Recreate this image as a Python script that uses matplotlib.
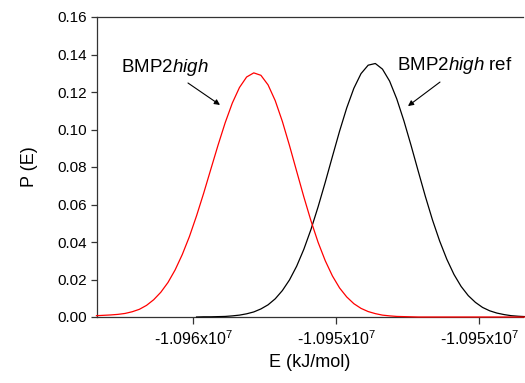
import numpy as np
import matplotlib
matplotlib.use('Agg')
import matplotlib.pyplot as plt
from matplotlib.ticker import FuncFormatter

plt.rcParams['font.family'] = 'Liberation Sans'
plt.rcParams['mathtext.fontset'] = 'custom'
plt.rcParams['mathtext.rm'] = 'Liberation Sans'
plt.rcParams['mathtext.it'] = 'Liberation Sans:italic'

# energy grid (kJ/mol), 200 kJ/mol steps
energy = np.arange(-10960700, -10948600, 200)

# P(E) for BMP2 high
p_high = [0.0007, 0.0009, 0.0011, 0.0014, 0.0019, 0.0028,
          0.0041, 0.0062, 0.0092, 0.0132, 0.0184, 0.0251, 0.0333, 0.0429,
          0.0540, 0.0661, 0.0789, 0.0916, 0.1036, 0.1141, 0.1224, 0.1280, 0.1302,
          0.1289, 0.1238, 0.1154, 0.1043, 0.0914, 0.0777, 0.0641, 0.0513, 0.0398, 0.0300,
          0.0219, 0.0155, 0.0107, 0.0071, 0.0046, 0.0029, 0.0018, 0.0010, 0.0006, 0.0003,
          0.0002, 0.0001,
          0.0, 0.0, 0.0, 0.0, 0.0, 0.0, 0.0, 0.0, 0.0, 0.0, 0.0, 0.0, 0.0, 0.0, 0.0, 0.0]

# P(E) for BMP2 high ref, starts at energy[14]
ref_start = 14
p_ref = [0.0000, 0.0001, 0.0001, 0.0002, 0.0003, 0.0006, 0.0010, 0.0017, 0.0027, 0.0043,
         0.0065, 0.0097, 0.0141, 0.0198, 0.0271, 0.0361, 0.0467, 0.0588, 0.0719, 0.0856,
         0.0991, 0.1115, 0.1220, 0.1298, 0.1343, 0.1352, 0.1322, 0.1258, 0.1163, 0.1046,
         0.0915, 0.0778, 0.0643, 0.0517, 0.0405, 0.0308, 0.0227, 0.0163, 0.0114, 0.0078,
         0.0051, 0.0033, 0.0021, 0.0013, 0.0007, 0.0004, 0.0002]

xticks = [-10958000, -10954000, -10950000]
yticks = [0.00, 0.02, 0.04, 0.06, 0.08, 0.10, 0.12, 0.14, 0.16]

fig = plt.figure(figsize=(5.25, 3.83), dpi=100)
ax = fig.add_axes([97 / 525, 1 - 317 / 383, 426 / 525, 300 / 383])

ax.plot(energy[ref_start:], p_ref, color='black', lw=0.9, zorder=3, clip_on=False,
        solid_joinstyle='round')
ax.plot(energy, p_high, color='red', lw=0.9, zorder=3, clip_on=False,
        solid_joinstyle='round')

ax.set_xlim(-10960685, -10948769)
ax.set_ylim(0, 0.16)
ax.set_xticks(xticks)
ax.set_yticks(yticks)
ax.xaxis.set_major_formatter(FuncFormatter(lambda v, pos: f"{v / 1e7:.3f}x10$^{{7}}$"))
ax.yaxis.set_major_formatter(FuncFormatter(lambda v, pos: f"{v:.2f}"))

for side in ['left', 'bottom', 'top']:
    ax.spines[side].set_color('#333333')
    ax.spines[side].set_linewidth(0.9)
ax.spines['right'].set_visible(False)
ax.tick_params(direction='out', length=4, width=0.9, color='#333333', labelsize=11)
ax.tick_params(axis='x', length=5, pad=4, labelsize=11.5)

ax.set_xlabel('E (kJ/mol)', fontsize=13, labelpad=4)
ax.set_ylabel('P (E)', fontsize=13, labelpad=14)

# labels with pointer arrows
ax.text(-10958797, 0.1328, r'BMP2$\it{high}$', fontsize=13.5, ha='center', va='center')
ax.annotate('', xy=(-10957245, 0.1131), xytext=(-10958140, 0.1248),
            arrowprops=dict(arrowstyle='-|>', lw=0.8, color='black',
                            mutation_scale=8, shrinkA=0, shrinkB=0))
ax.text(-10950686, 0.1344, r'BMP2$\it{high}$ ref', fontsize=13.5, ha='center', va='center')
ax.annotate('', xy=(-10951986, 0.1125), xytext=(-10951091, 0.1253),
            arrowprops=dict(arrowstyle='-|>', lw=0.8, color='black',
                            mutation_scale=8, shrinkA=0, shrinkB=0))

fig.savefig('out.png', dpi=100)
